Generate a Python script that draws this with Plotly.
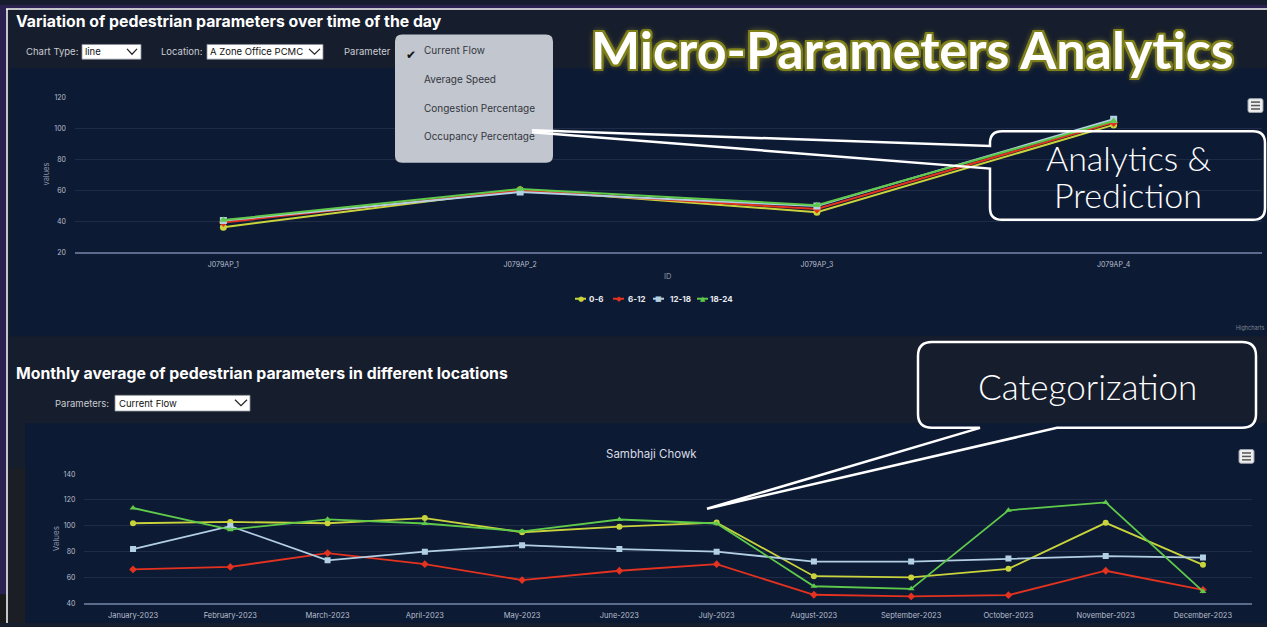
import plotly.graph_objects as go

W, H = 1267, 627

# ---------------- data ----------------
sensor_ids = ["J079AP_1", "J079AP_2", "J079AP_3", "J079AP_4"]
hour_slots = ["0-6", "6-12", "12-18", "18-24"]
day_0_6 = [36.3, 60.5, 46.0, 102.4]
day_6_12 = [39.4, 60.0, 48.0, 104.0]
day_12_18 = [40.6, 59.0, 50.0, 106.0]
day_18_24 = [40.9, 61.0, 50.5, 104.9]

months = ["January-2023", "February-2023", "March-2023", "April-2023", "May-2023",
          "June-2023", "July-2023", "August-2023", "September-2023", "October-2023",
          "November-2023", "December-2023"]
month_0_6 = [102, 103, 102, 106, 95, 99.3, 102.5, 61, 60, 66.7, 102.3, 69.8]
month_6_12 = [66.2, 68.2, 78.9, 70.3, 58, 65.2, 70.3, 46.6, 45.3, 46.3, 65.2, 50.4]
month_12_18 = [82, 99.8, 73.3, 80, 85, 82, 80, 72.3, 72.3, 74.6, 76.6, 75.4]
month_18_24 = [113.8, 97, 105, 101.8, 95.7, 104.9, 101.8, 53.2, 51.2, 112, 118.1, 49.2]

series_colors = ["#c9d43c", "#e3321f", "#b3cfe4", "#5ec94b"]
series_symbols = ["circle", "diamond", "square", "triangle-up"]


def X(p):
    return p / W


def Y(p):
    return 1 - p / H


fig = go.Figure()

for name, vals, c, s in zip(hour_slots, [day_0_6, day_6_12, day_12_18, day_18_24],
                            series_colors, series_symbols):
    fig.add_trace(go.Scatter(x=sensor_ids, y=vals, name=name, mode="lines+markers",
                             line=dict(color=c, width=2),
                             marker=dict(symbol=s, size=7, color=c),
                             xaxis="x", yaxis="y", hoverinfo="skip"))

for name, vals, c, s in zip(hour_slots, [month_0_6, month_6_12, month_12_18, month_18_24],
                            series_colors, series_symbols):
    fig.add_trace(go.Scatter(x=months, y=vals, name=name, mode="lines+markers",
                             line=dict(color=c, width=1.8),
                             marker=dict(symbol=s, size=6, color=c),
                             xaxis="x2", yaxis="y2", hoverinfo="skip"))

tickfont = dict(family="Inter", size=7, color="#b7bfcd")
tickfont2 = dict(family="Inter", size=7.5, color="#b7bfcd")

fig.update_layout(
    width=W, height=H, margin=dict(l=0, r=0, t=0, b=0),
    paper_bgcolor="#161d2c", plot_bgcolor="rgba(0,0,0,0)",
    showlegend=False,
    xaxis=dict(domain=[X(75), X(1262)], anchor="y", type="category", range=[-0.5, 3.5],
               showgrid=False, showline=True, linecolor="#5b6b8c", linewidth=2,
               ticks="", tickfont=tickfont, ticklabelstandoff=4, zeroline=False),
    yaxis=dict(domain=[Y(251), Y(94)], anchor="x", range=[20, 120], dtick=20, tick0=20,
               showgrid=True, gridcolor="#1f2c48", gridwidth=1, showline=False,
               zeroline=False, ticks="", tickfont=tickfont, ticklabelstandoff=8),
    xaxis2=dict(domain=[X(84.4), X(1251.6)], anchor="y2", type="category", range=[-0.5, 11.5],
                showgrid=False, showline=True, linecolor="#5b6b8c", linewidth=2,
                ticks="", tickfont=tickfont2, ticklabelstandoff=4, zeroline=False),
    yaxis2=dict(domain=[Y(607), Y(476)], anchor="x2", range=[40, 140], dtick=20, tick0=40,
                showgrid=True, gridcolor="#1f2c48", gridwidth=1, showline=False,
                zeroline=False, ticks="", tickfont=tickfont, ticklabelstandoff=8),
)

shapes = []


def rect(x0, y0, x1, y1, fill, line_color=None, lw=0, layer="below"):
    return dict(type="rect", xref="paper", yref="paper", x0=X(x0), x1=X(x1),
                y0=Y(y1), y1=Y(y0), fillcolor=fill,
                line=dict(color=line_color or fill, width=lw), layer=layer)


def line(x0, y0, x1, y1, color, lw=1, layer="above"):
    return dict(type="line", xref="paper", yref="paper", x0=X(x0), x1=X(x1),
                y0=Y(y0), y1=Y(y1), line=dict(color=color, width=lw), layer=layer)


def path(segs, color=None, lw=0, fill="rgba(0,0,0,0)", layer="above"):
    parts = []
    for seg in segs:
        cmd = seg[0]
        pts = seg[1:]
        coords = " ".join(f"{X(pts[i]):.5f},{Y(pts[i + 1]):.5f}" for i in range(0, len(pts), 2))
        parts.append(cmd + " " + coords if coords else cmd)
    return dict(type="path", xref="paper", yref="paper", path=" ".join(parts),
                fillcolor=fill, line=dict(color=color or "rgba(0,0,0,0)", width=lw),
                layer=layer)


def rrect(x0, y0, x1, y1, r, fill, color=None, lw=0, layer="above"):
    segs = [("M", x0 + r, y0), ("L", x1 - r, y0), ("Q", x1, y0, x1, y0 + r),
            ("L", x1, y1 - r), ("Q", x1, y1, x1 - r, y1), ("L", x0 + r, y1),
            ("Q", x0, y1, x0, y1 - r), ("L", x0, y0 + r), ("Q", x0, y0, x0 + r, y0), ("Z",)]
    return path(segs, color=color, lw=lw, fill=fill, layer=layer)


# backgrounds
shapes.append(rect(8, 470, 25, 627, "#1b1e25"))
shapes.append(rect(10, 64, 1267, 336, "#0d1a33"))
shapes.append(rect(25, 424, 1267, 627, "#0d1a33"))
# page frame
shapes.append(rect(0, 0, 6, 598, "#2b2150"))
shapes.append(rect(0, 598, 6, 627, "#1a1a1a"))
shapes.append(rect(0, 0, 1267, 3, "#2b2150"))
shapes.append(line(7, 4, 7, 627, "#ffffff", 1.5, layer="below"))
shapes.append(line(6, 4, 1267, 4, "#ffffff", 1.5, layer="below"))

# select boxes
for (bx0, by0, bx1, by1) in [(82, 40, 141, 55), (207, 40, 323, 55), (115, 396, 250, 412)]:
    shapes.append(rect(bx0, by0, bx1, by1, "#ffffff", "#8a8f98", 0.8, layer="above"))
for (cx0, cy0, cx1, cy1) in [(127, 44.5, 137, 50), (309, 44.5, 320, 50), (235, 400.5, 247, 406.5)]:
    shapes.append(path([("M", cx0, cy0), ("L", (cx0 + cx1) / 2, cy1), ("L", cx1, cy0)],
                       color="#222222", lw=1.2))

# hamburger icons
for (hx0, hy0, hx1, hy1) in [(1248, 95, 1263, 109), (1239, 451, 1254, 465)]:
    shapes.append(rrect(hx0, hy0, hx1, hy1, 2, "#eeeeee", "#9aa0a8", 1))
    for k in range(3):
        yy = hy0 + 3.5 + k * 3.5
        shapes.append(line(hx0 + 3, yy, hx1 - 3, yy, "#555555", 1.5))

# legend symbols (chart 1)
legend_sym_x = [575, 613, 653, 697]
for lx, c in zip(legend_sym_x, series_colors):
    shapes.append(line(lx, 298, lx + 11, 298, c, 2))

# dropdown overlay
shapes.append(rrect(395, 30, 553, 160, 7, "#c2c6cf"))

# Analytics callout
shapes.append(path([("M", 532, 127), ("L", 990, 143), ("L", 990, 140),
                    ("Q", 990, 128, 1002, 128), ("L", 1253, 128), ("Q", 1265, 128, 1265, 140),
                    ("L", 1265, 206), ("Q", 1265, 218, 1253, 218), ("L", 1002, 218),
                    ("Q", 990, 218, 990, 206), ("L", 990, 166), ("L", 532, 129)],
                   color="#ffffff", lw=2.5))
# Categorization callout
shapes.append(path([("M", 980, 429), ("L", 707, 511), ("L", 1057, 429), ("L", 1242, 429),
                    ("Q", 1256, 429, 1256, 415), ("L", 1256, 356), ("Q", 1256, 342, 1242, 342),
                    ("L", 932, 342), ("Q", 918, 342, 918, 356), ("L", 918, 415),
                    ("Q", 918, 429, 932, 429), ("Z",)],
                   color="#ffffff", lw=2.5))

fig.update_layout(shapes=shapes)

anns = []


def T(text, x, y, size, color="#ffffff", family="Inter", weight=400, xanchor="left",
      yanchor="middle", angle=0, shadow=None):
    f = dict(family=family, size=size, color=color, weight=weight)
    if shadow:
        f["shadow"] = shadow
    return dict(text=text, x=X(x), y=Y(y), xref="paper", yref="paper", xanchor=xanchor,
                yanchor=yanchor, showarrow=False, font=f, textangle=angle, borderpad=0)


# section titles and controls
anns.append(T("Variation of pedestrian parameters over time of the day", 15, 17, 15.8, weight=700))
anns.append(T("Chart Type:", 25, 47, 9.5, "#c9ccd3"))
anns.append(T("line", 84, 47, 9.5, "#111111"))
anns.append(T("Location:", 160, 47, 9.5, "#c9ccd3"))
anns.append(T("A Zone Office PCMC", 209, 47, 9.5, "#111111"))
anns.append(T("Parameter", 343, 47, 9.5, "#c9ccd3"))
anns.append(T("Monthly average of pedestrian parameters in different locations", 15, 374, 15.8,
              weight=700))
anns.append(T("Parameters:", 54, 404, 9.5, "#c9ccd3"))
anns.append(T("Current Flow", 118, 404, 9.5, "#111111"))

# axis titles & chart titles
anns.append(T("values", 47, 172, 7.5, "#8e98aa", xanchor="center", angle=-90))
anns.append(T("ID", 667, 275, 7.5, "#8e98aa", xanchor="center"))
anns.append(T("Values", 56, 542, 8, "#8e98aa", xanchor="center", angle=-90))
anns.append(T("Sambhaji Chowk", 651, 456, 11.5, "#d8dde6", xanchor="center"))
anns.append(T("Highcharts", 1265, 327, 5.5, "#7f8693", xanchor="right"))

# legend (chart 1)
legend_glyphs = ["●", "◆", "■", "▲"]
legend_text_x = [588, 627, 669, 709]
for g, c, lx, tx, name in zip(legend_glyphs, series_colors, legend_sym_x, legend_text_x, hour_slots):
    anns.append(T(g, lx + 5.5, 298, 7, c, family="DejaVu Sans", xanchor="center"))
    anns.append(T(name, tx, 298, 8, "#e8ebf0", weight=700))

# dropdown items
anns.append(T("✔", 411, 51, 12, "#111111", family="DejaVu Sans", xanchor="center"))
for txt, yy in zip(["Current Flow", "Average Speed", "Congestion Percentage", "Occupancy Percentage"],
                   [46, 75, 104, 133]):
    anns.append(T(txt, 423, yy, 10, "#33363d"))

# overlay headline
glow = ("-2px -2px 0 #80801a, 2px -2px 0 #80801a, -2px 2px 0 #80801a, 2px 2px 0 #80801a, "
        "0 -2px 0 #80801a, 0 2px 0 #80801a, -2px 0 0 #80801a, 2px 0 0 #80801a, "
        "0 0 7px #a4a430")
anns.append(T("Micro-Parameters Analytics", 912, 45, 52, "#ffffff", family="Lato", weight=700,
              xanchor="center", shadow=glow))

# callout texts
anns.append(T("Analytics &", 1128, 155, 34, "#ffffff", family="Lato", weight=300, xanchor="center"))
anns.append(T("Prediction", 1128, 192, 34, "#ffffff", family="Lato", weight=300, xanchor="center"))
anns.append(T("Categorization", 1087, 387, 35, "#ffffff", family="Lato", weight=300, xanchor="center"))

fig.update_layout(annotations=anns)

fig.write_html("out.html", config={"displayModeBar": False},
               post_script="document.body.style.margin='0px';document.body.style.overflow='hidden';")
